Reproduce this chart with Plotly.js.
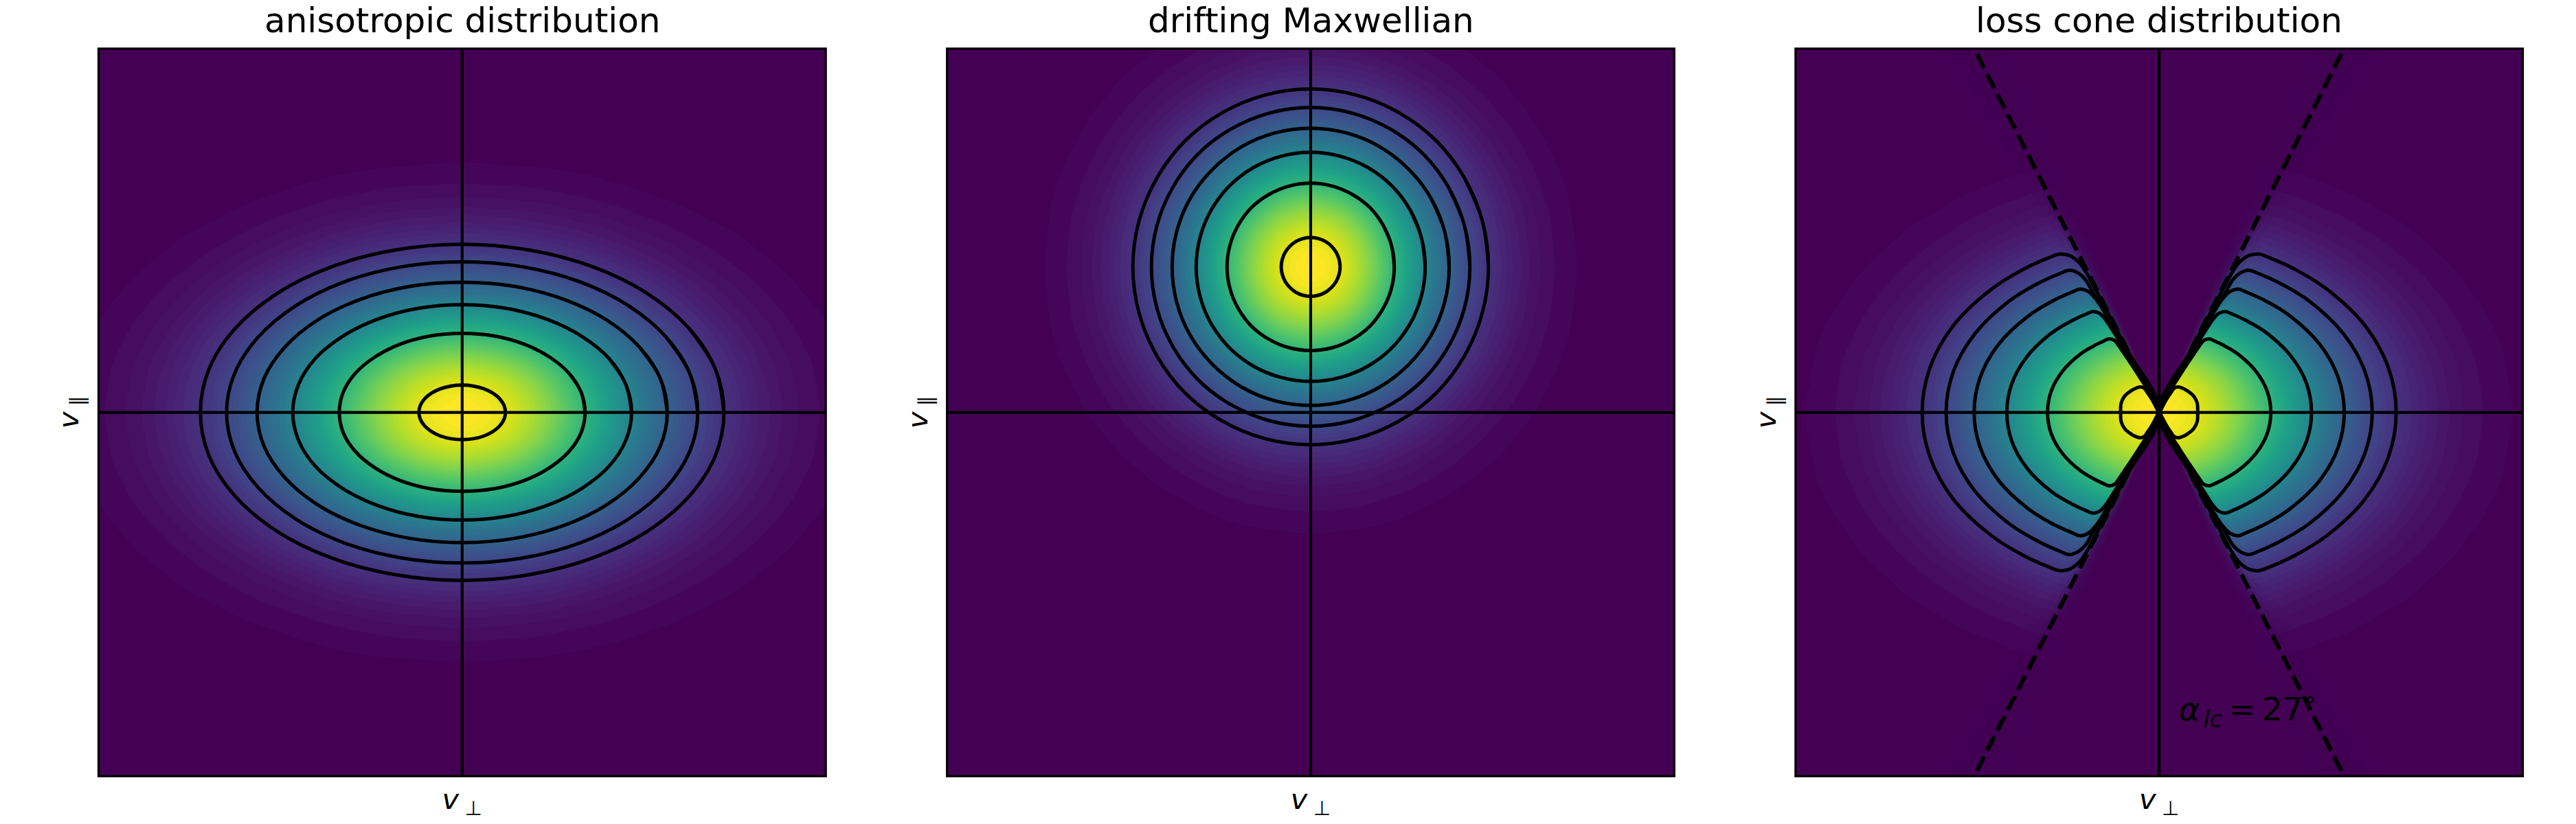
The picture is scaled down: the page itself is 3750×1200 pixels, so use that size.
<!DOCTYPE html>
<html>
<head>
<meta charset="utf-8">
<script src="https://cdn.plot.ly/plotly-3.0.1.min.js"></script>
<style>html,body{margin:0;padding:0;background:#fff}#chart{width:3750px;height:1200px}</style>
</head>
<body>
<div id="chart"></div>
<script>
// Panel titles and labels
const panelTitles = ["anisotropic distribution", "drifting Maxwellian", "loss cone distribution"];
const xLabel = "<i>v</i>\u2009<sub>⊥</sub>";
const yLabel = "<i>v</i>\u2009<sub>∥</sub>";
const coneLabel = "<i>α</i>\u200a<sub><i>lc</i></sub>\u2009=\u200927<sup>∘</sup>";

// Distribution value read on one quadrant (first index: v_par row, second: v_perp column)
const fQuadrant = [
[1.000,.986,.944,.878,.793,.697,.594,.492,.396,.310,.235,.174,.125,.087,.059,.039,.025,.015,.009],
[.986,.971,.930,.865,.782,.686,.586,.485,.390,.305,.232,.171,.123,.085,.058,.038,.024,.015,.009],
[.944,.930,.891,.829,.749,.657,.561,.465,.374,.292,.222,.164,.118,.082,.055,.036,.023,.014,.009],
[.878,.865,.829,.771,.697,.611,.522,.432,.348,.272,.207,.152,.109,.076,.052,.034,.022,.013,.008],
[.793,.782,.749,.697,.629,.553,.471,.391,.314,.246,.187,.138,.099,.069,.047,.031,.020,.012,.007],
[.697,.686,.657,.611,.553,.485,.414,.343,.276,.216,.164,.121,.087,.060,.041,.027,.017,.011,.006],
[.594,.586,.561,.522,.471,.414,.353,.292,.235,.184,.140,.103,.074,.052,.035,.023,.015,.009,.005],
[.492,.485,.465,.432,.391,.343,.292,.242,.195,.152,.116,.085,.061,.043,.029,.019,.012,.008,.005],
[.396,.390,.374,.348,.314,.276,.235,.195,.157,.123,.093,.069,.049,.034,.023,.015,.010,.006,.004],
[.310,.305,.292,.272,.246,.216,.184,.152,.123,.096,.073,.054,.039,.027,.018,.012,.008,.005,.003],
[.235,.232,.222,.207,.187,.164,.140,.116,.093,.073,.055,.041,.029,.020,.014,.009,.006,.004,.002],
[.174,.171,.164,.152,.138,.121,.103,.085,.069,.054,.041,.030,.022,.015,.010,.007,.004,.003,.002],
[.125,.123,.118,.109,.099,.087,.074,.061,.049,.039,.029,.022,.016,.011,.007,.005,.003,.002,.001],
[.087,.085,.082,.076,.069,.060,.052,.043,.034,.027,.020,.015,.011,.008,.005,.003,.002,.001,.001],
[.059,.058,.055,.052,.047,.041,.035,.029,.023,.018,.014,.010,.007,.005,.003,.002,.001,.001,.001],
[.039,.038,.036,.034,.031,.027,.023,.019,.015,.012,.009,.007,.005,.003,.002,.001,.001,.001,0],
[.025,.024,.023,.022,.020,.017,.015,.012,.010,.008,.006,.004,.003,.002,.001,.001,.001,0,0],
[.015,.015,.014,.013,.012,.011,.009,.008,.006,.005,.004,.003,.002,.001,.001,.001,0,0,0],
[.009,.009,.009,.008,.007,.006,.005,.005,.004,.003,.002,.002,.001,.001,.001,0,0,0,0]
];

// Velocity positions of the quadrant rows and columns in each panel
const anisoVperp = [0,.0625,.125,.1875,.25,.3125,.375,.4375,.5,.5625,.625,.6875,.75,.8125,.875,.9375,1,1.0625,1.125];
const anisoVpar  = [0,.04,.08,.12,.16,.2,.24,.28,.32,.36,.4,.44,.48,.52,.56,.6,.64,.68,.72];
const driftVperp = [0,.0427,.0854,.1281,.1708,.2135,.2562,.2989,.3416,.3843,.427,.4697,.5124,.5551,.5978,.6405,.6832,.7259,.7686];
const driftVpar  = [.4,.4427,.4854,.5281,.5708,.6135,.6562,.6989,.7416,.7843,.827,.8697,.9124,.9551,.9978,1.0405,1.0832,1.1259,1.1686];
const driftCentre = .4;
const coneVperp  = [0,.0566,.1132,.1698,.2264,.283,.3396,.3962,.4528,.5094,.566,.6226,.6792,.7358,.7924,.849,.9056,.9622,1.0188];
const coneVpar   = [0,.04165,.0833,.12495,.1666,.20825,.2499,.29155,.3332,.37485,.4165,.45815,.4998,.54145,.5831,.62475,.6664,.70805,.7497];

// Band spacing of the filled field
const bandStart = 1/70, bandEnd = 69/70, bandSize = 1/70;

// Anisotropic contours: one quadrant each, from the v_perp axis to the v_par axis
const anX1 = [.72,.696,.624,.509,.36,.186,0];
const anY1 = [0,.120,.231,.327,.400,.446,.462];
const anX2 = [.648,.626,.561,.458,.324,.168,0];
const anY2 = [0,.107,.207,.293,.359,.400,.414];
const anX3 = [.564,.545,.488,.399,.282,.146,0];
const anY3 = [0,.093,.179,.253,.310,.346,.358];
const anX4 = [.466,.450,.404,.329,.233,.121,0];
const anY4 = [0,.077,.148,.209,.256,.286,.296];
const anX5 = [.338,.327,.293,.239,.169,.0875,0];
const anY5 = [0,.056,.1085,.153,.188,.210,.217];
const anX6 = [.119,.115,.103,.084,.0595,.031,0];
const anY6 = [0,.0194,.0375,.053,.065,.0724,.075];
const anisoX = [anX1,anX2,anX3,anX4,anX5,anX6];
const anisoY = [anY1,anY2,anY3,anY4,anY5,anY6];

// Drifting Maxwellian contours: offsets from the drift centre
const drX1 = [.489,.472,.423,.346,.2445,.127,0];
const drY1 = [0,.127,.2445,.346,.423,.472,.489];
const drX2 = [.438,.423,.379,.310,.219,.113,0];
const drY2 = [0,.113,.219,.310,.379,.423,.438];
const drX3 = [.381,.368,.330,.269,.1905,.099,0];
const drY3 = [0,.099,.1905,.269,.330,.368,.381];
const drX4 = [.315,.304,.273,.223,.1575,.082,0];
const drY4 = [0,.082,.1575,.223,.273,.304,.315];
const drX5 = [.23,.222,.199,.163,.115,.060,0];
const drY5 = [0,.060,.115,.163,.199,.222,.23];
const drX6 = [.081,.078,.070,.057,.0405,.021,0];
const drY6 = [0,.021,.0405,.057,.070,.078,.081];
const driftX = [drX1,drX2,drX3,drX4,drX5,drX6];
const driftY = [drY1,drY2,drY3,drY4,drY5,drY6];

// Loss cone contours: one quadrant each, from the v_perp axis over the tip to the origin
const lcX1 = [.652,.630,.565,.461,.374,.306,.2745,.246,.221,.202,.183,.09,0];
const lcY1 = [0,.124,.240,.339,.393,.424,.435,.431,.413,.387,.353,.175,0];
const lcX2 = [.586,.566,.507,.414,.336,.275,.246,.221,.202,.183,.08,0];
const lcY2 = [0,.112,.216,.305,.353,.381,.391,.382,.364,.331,.155,0];
const lcX3 = [.509,.492,.441,.360,.292,.239,.218,.196,.177,.161,.07,0];
const lcY3 = [0,.097,.188,.265,.307,.331,.339,.333,.315,.293,.135,0];
const lcX4 = [.419,.405,.363,.296,.240,.197,.182,.164,.149,.136,.062,0];
const lcY4 = [0,.080,.154,.218,.252,.272,.277,.272,.257,.238,.116,0];
const lcX5 = [.307,.297,.266,.217,.176,.155,.138,.123,.111,.098,.052,0];
const lcY5 = [0,.0585,.113,.160,.185,.195,.202,.198,.183,.164,.094,0];
const lcX6 = [.106,.1045,.095,.076,.0636,.0523,.0415,.032,.0195,0];
const lcY6 = [0,.0258,.0447,.0604,.0667,.0698,.0667,.054,.0352,0];
const lossConeX = [lcX1,lcX2,lcX3,lcX4,lcX5,lcX6];
const lossConeY = [lcY1,lcY2,lcY3,lcY4,lcY5,lcY6];

// Cone boundary: ends of the dashed lines, and the soft edge (v_perp at |v_par|=1, share of f removed)
const coneEndX = [.501,.501,-.501,-.501];
const coneEndY = [.985,-.985,.985,-.985];
const coneEdgeWidth = [.62,.58,.54,.52,.50,.48,.45,.42];
const coneEdgeOpacity = [.03,.09,.18,.24,.55,.52,.58,1];

const axisLines = {x:[-1,1], y:[0,0]};
const axisLinesV = {x:[0,0], y:[-1,1]};

// Style and layout
const VIRIDIS0 = "#440154";
const font = "DejaVu Sans";
const W = 3750, H = 1200;
const panelLeft = [143.5,1378.7,2613.9], panelWidth = 1058.6, panelTop = 70.8, panelBottom = 1130.3;

function mirrorAxis(a){ return a.slice(1).reverse().map(v=>-v).concat(a); }
function mirrorAbout(a,c){ return a.slice(1).reverse().map(v=>2*c-v).concat(a); }
function mirrorRow(r){ return r.slice(1).reverse().concat(r); }
const fFull = mirrorRow(fQuadrant.map(mirrorRow));

const traces = [];
function band(x,y,sub){
  traces.push({type:"contour",x,y,z:fFull,xaxis:"x"+sub,yaxis:"y"+sub,autocontour:false,showscale:false,
    colorscale:"Viridis",zmin:0,zmax:1,hoverinfo:"skip",
    contours:{coloring:"fill",showlines:false,start:bandStart,end:bandEnd,size:bandSize},
    line:{width:0,smoothing:1}});
}
function loops(qxs,qys,cy,sub){
  qxs.forEach((qx,i)=>{
    const qy = qys[i], xs = [], ys = [];
    const n = qx.length;
    for(let k=0;k<n;k++){ xs.push(qx[k]); ys.push(qy[k]); }
    for(let k=n-2;k>=0;k--){ xs.push(-qx[k]); ys.push(qy[k]); }
    for(let k=1;k<n;k++){ xs.push(-qx[k]); ys.push(-qy[k]); }
    for(let k=n-2;k>=0;k--){ xs.push(qx[k]); ys.push(-qy[k]); }
    xs.push(qx[1],qx[2]); ys.push(qy[1],qy[2]);
    traces.push({type:"scatter",mode:"lines",x:xs,y:ys.map(v=>v+cy),xaxis:"x"+sub,yaxis:"y"+sub,hoverinfo:"skip",
      showlegend:false,line:{color:"#000",width:5,shape:"spline",smoothing:1}});
  });
}
function cross(sub){
  [axisLines,axisLinesV].forEach(l=>traces.push({type:"scatter",mode:"lines",x:l.x,y:l.y,xaxis:"x"+sub,yaxis:"y"+sub,
    hoverinfo:"skip",showlegend:false,line:{color:"#000",width:4.17}}));
}

// panel 1
band(mirrorAxis(anisoVperp),mirrorAxis(anisoVpar),"");
cross(""); loops(anisoX,anisoY,0,"");
// panel 2
band(mirrorAxis(driftVperp),mirrorAbout(driftVpar,driftCentre),"2");
cross("2"); loops(driftX,driftY,driftCentre,"2");
// panel 3
band(mirrorAxis(coneVperp),mirrorAxis(coneVpar),"3");
coneEdgeWidth.forEach((r,i)=>traces.push({type:"scatter",mode:"lines",xaxis:"x3",yaxis:"y3",hoverinfo:"skip",showlegend:false,
  x:[0,-r,r,0,null,0,-r,r,0], y:[0,1,1,0,null,0,-1,-1,0], fill:"toself",
  fillcolor:"rgba(68,1,84,"+coneEdgeOpacity[i]+")", line:{width:0}}));
cross("3");
lossConeX.forEach((qx,i)=>{
  const qy = lossConeY[i];
  [1,-1].forEach(s=>{
    const xs = qx.slice().reverse().concat(qx.slice(1)).map(v=>s*v);
    const ys = qy.slice().reverse().concat(qy.slice(1).map(v=>-v));
    traces.push({type:"scatter",mode:"lines",x:xs,y:ys,xaxis:"x3",yaxis:"y3",hoverinfo:"skip",showlegend:false,
      line:{color:"#000",width:5,shape:"spline",smoothing:1}});
  });
});
coneEndX.forEach((ex,i)=>traces.push({type:"scatter",mode:"lines",x:[0,ex],y:[0,coneEndY[i]],xaxis:"x3",yaxis:"y3",
  hoverinfo:"skip",showlegend:false,line:{color:"#000",width:6.25,dash:"23.1px,10px"}}));

const layout = {
  width:W,height:H,margin:{l:0,r:0,t:0,b:0},paper_bgcolor:"#fff",plot_bgcolor:VIRIDIS0,
  showlegend:false,font:{family:font,color:"#000"},
  annotations:[],shapes:[]
};
const yDom = [1-panelBottom/H,1-panelTop/H];
panelLeft.forEach((l,i)=>{
  const s = i?String(i+1):"";
  layout["xaxis"+s] = {domain:[l/W,(l+panelWidth)/W],range:[-1,1],anchor:"y"+s,showgrid:false,zeroline:false,
    showticklabels:false,ticks:"",showline:false,fixedrange:true,
    title:{text:xLabel,font:{family:font,size:41.67,color:"#000"},standoff:18}};
  layout["yaxis"+s] = {domain:yDom,range:[-1,1],anchor:"x"+s,showgrid:false,zeroline:false,
    showticklabels:false,ticks:"",showline:false,fixedrange:true,
    title:{text:yLabel,font:{family:font,size:41.67,color:"#000"},standoff:14}};
  layout.shapes.push({type:"rect",xref:"x"+s+" domain",yref:"y"+s+" domain",x0:0,x1:1,y0:0,y1:1,
    line:{color:"#000",width:3.33},fillcolor:"rgba(0,0,0,0)",layer:"above"});
  layout.annotations.push({text:panelTitles[i],xref:"paper",yref:"paper",x:(l+panelWidth/2)/W,y:yDom[1],
    xanchor:"center",yanchor:"bottom",yshift:10,showarrow:false,font:{family:font,size:50,color:"#000"}});
});
layout.annotations.push({text:coneLabel,xref:"x3",yref:"y3",x:.05,y:-.816,xanchor:"left",yanchor:"middle",
  showarrow:false,font:{family:font,size:47,color:"#000"}});

Plotly.newPlot("chart",traces,layout,{displayModeBar:false,responsive:false});
</script>
</body>
</html>
